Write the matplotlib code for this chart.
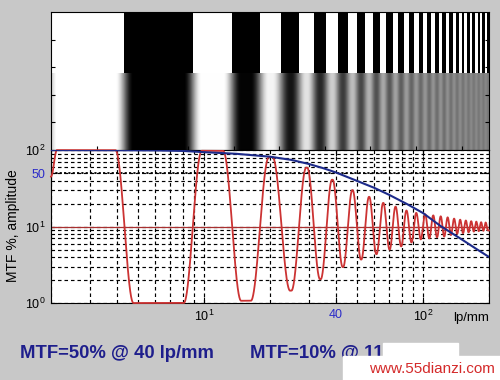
import numpy as np
import matplotlib
matplotlib.use('Agg')
import matplotlib.pyplot as plt
from matplotlib.patches import Rectangle

plt.rcParams['font.family'] = ['Liberation Sans', 'DejaVu Sans']
plt.rcParams['mathtext.fontset'] = 'custom'
plt.rcParams['mathtext.rm'] = 'Liberation Sans'
plt.rcParams['mathtext.it'] = 'Liberation Sans:italic'

# ── Data ─────────────────────────────────────────────────────────────────────
f_min, f_max = 2.0, 200.0          # lp/mm, x range

# MTF curve (blue), percent
mtf_freq = [2, 4, 6, 8, 10, 14, 20, 25, 30, 35, 40, 50, 60, 70, 85, 100, 120, 150, 175, 200]
mtf_pct  = [100, 99.6, 99, 97.5, 94, 89.5, 82, 74.5, 66, 58, 51, 39.5, 32, 26, 19.5, 15, 10.2, 6.8, 5.1, 4.0]

# bar target: edge frequencies between black / white bars (lp/mm)
bar_edges = [4.33, 8.88, 13.43, 17.98, 22.53, 27.08, 31.63, 36.18, 40.73, 45.28,
             49.83, 54.38, 58.93, 63.48, 68.03, 72.58, 77.13, 81.68, 86.23, 90.78,
             95.33, 99.88, 104.43, 108.98, 113.53, 118.08, 122.63, 127.18, 131.73, 136.28,
             140.83, 145.38, 149.93, 154.48, 159.03, 163.58, 168.13, 172.68, 177.23, 181.78,
             186.33, 190.88, 195.43]
# red response: extreme value reached inside each bar (first bar is white)
bar_peak = [100, 1, 98, 1.07, 81, 1.45, 59, 2.05, 41, 2.95, 30, 3.7, 24.5, 4.35,
            20.4, 5.0, 18.2, 5.5, 16.2, 6.2, 15.1, 6.8, 14.5, 7.0, 14.0, 7.25,
            13.6, 7.4, 13.2, 7.75, 12.7, 8.05, 12.3, 8.2, 12.0, 8.4, 11.75, 8.6,
            11.6, 8.7, 11.4, 8.8, 11.3, 8.9]
red_start = 45                      # value at the left border of the image

mtf50_f, mtf10_f = 40, 117

# ── Build response profile (log-x) from the bar extremes ─────────────────────
u_l, u_r = np.log10(f_min), np.log10(f_max)
ue = np.log10(bar_edges)
lv = np.log10(bar_peak)
h0 = 0.041                          # half width of an edge transition (decades)

ku = [u_l, u_l + 0.027]
kv = [np.log10(red_start), lv[0]]
for j, u in enumerate(ue):
    up = ue[j - 1] if j > 0 else u_l
    un = ue[j + 1] if j + 1 < len(ue) else u_r
    h = min(h0, (u - up) / 2, (un - u) / 2)
    ku += [u - h, u + h]
    kv += [lv[j], lv[j + 1]]
ku.append(u_r)
kv.append(lv[-1])
ku, kv = np.array(ku), np.array(kv)
keep = np.append(np.diff(ku) > 1e-9, True)
ku, kv = ku[keep], kv[keep]

u = np.linspace(u_l, u_r, 6000)
i = np.clip(np.searchsorted(ku, u, side='right') - 1, 0, len(ku) - 2)
t = np.clip((u - ku[i]) / (ku[i + 1] - ku[i]), 0, 1)
logv = kv[i] + (kv[i + 1] - kv[i]) * (1 - np.cos(np.pi * t)) / 2
f_dense = 10 ** u
red = 10 ** logv
gray = logv / 2.0

# ── Figure ───────────────────────────────────────────────────────────────────
fig = plt.figure(figsize=(5, 3.8), dpi=100, facecolor='#c8c8c8')
ax_img = fig.add_axes([0.102, 0.605, 0.876, 0.3634])
ax = fig.add_axes([0.102, 0.2026, 0.876, 0.4024])

# top: sharp bars + blurred bars
W = 960.0
to_px = lambda uu: (np.asarray(uu) - u_l) / (u_r - u_l) * W
xb = np.concatenate([[0], to_px(ue), [W]])
sharp = np.array([[1 - (k % 2) for k in range(len(bar_peak))]])
split = 0.56
ax_img.pcolormesh(xb, [split, 1], sharp, cmap='gray', vmin=0, vmax=1, shading='flat')
xg = to_px(u)
ax_img.pcolormesh(xg, [0, split], ((gray[:-1] + gray[1:]) / 2)[None, :],
                  cmap='gray', vmin=0, vmax=1, shading='flat')
ax_img.set_xlim(0, W)
ax_img.set_ylim(0, 1)
ax_img.set_xticks(np.arange(100, 901, 100))
ax_img.set_yticks([0.2, 0.4, 0.6, 0.8])
ax_img.tick_params(direction='in', length=3, right=True, labelbottom=False, labelleft=False)

# bottom: MTF and response
ax.set_facecolor('white')
ax.axhline(10, color='#a83030', lw=0.9, zorder=2)
ax.plot(f_dense, red, color='#cc3333', lw=1.3, clip_on=False, zorder=3)
ax.plot(mtf_freq, mtf_pct, color='#1c2a8a', lw=1.5, zorder=4)
ax.set_xscale('log')
ax.set_yscale('log')
ax.set_xlim(f_min, f_max)
ax.set_ylim(1, 100)
ax.grid(True, which='both', color='k', ls=(0, (3, 2.5)), lw=0.85)
ax.axhline(50, color='k', ls=(0, (1.2, 1.2)), lw=1.3, zorder=2)

ax.set_xticks([10, mtf50_f, 100])
ax.set_xticklabels(['$10^{1}$', str(mtf50_f), '$10^{2}$'])
ax.set_yticks([1, 10, 50, 100])
ax.set_yticklabels(['$10^{0}$', '$10^{1}$', '50', '$10^{2}$'])
ax.tick_params(which='both', direction='in', top=True, right=True, labelsize=9, pad=4)
ax.tick_params(which='major', length=4)
ax.tick_params(which='minor', length=2)
ax.get_xticklabels()[1].set_color('#2b2bc8')
ax.get_yticklabels()[2].set_color('#2b2bc8')
ax.text(1.0, -0.1, 'lp/mm', transform=ax.transAxes, ha='right', va='center', fontsize=9.5)

fig.text(13 / 500, 1 - 226 / 380, 'MTF %, amplitude', rotation=90,
         ha='center', va='center', fontsize=10)

navy = '#1e1e8c'
fig.text(20 / 500, 1 - 354 / 380, f'MTF=50% @ {mtf50_f} lp/mm', color=navy,
         fontsize=13.3, fontweight='bold', ha='left', va='center')
fig.text(250 / 500, 1 - 354 / 380, f'MTF=10% @ {mtf10_f} lp/mm', color=navy,
         fontsize=13.3, fontweight='bold', ha='left', va='center')

# watermark
fig.add_artist(Rectangle((383 / 500, 1 - 358 / 380), 75 / 500, 15 / 380,
                         transform=fig.transFigure, color='white', zorder=5))
fig.add_artist(Rectangle((343 / 500, 0), 157 / 500, 24 / 380,
                         transform=fig.transFigure, color='white', zorder=5))
fig.text(495 / 500, 1 - 369 / 380, 'www.55dianzi.com', color='#d42a2a',
         fontsize=11, ha='right', va='center', zorder=6)

fig.savefig('out.png', dpi=100, facecolor=fig.get_facecolor())
